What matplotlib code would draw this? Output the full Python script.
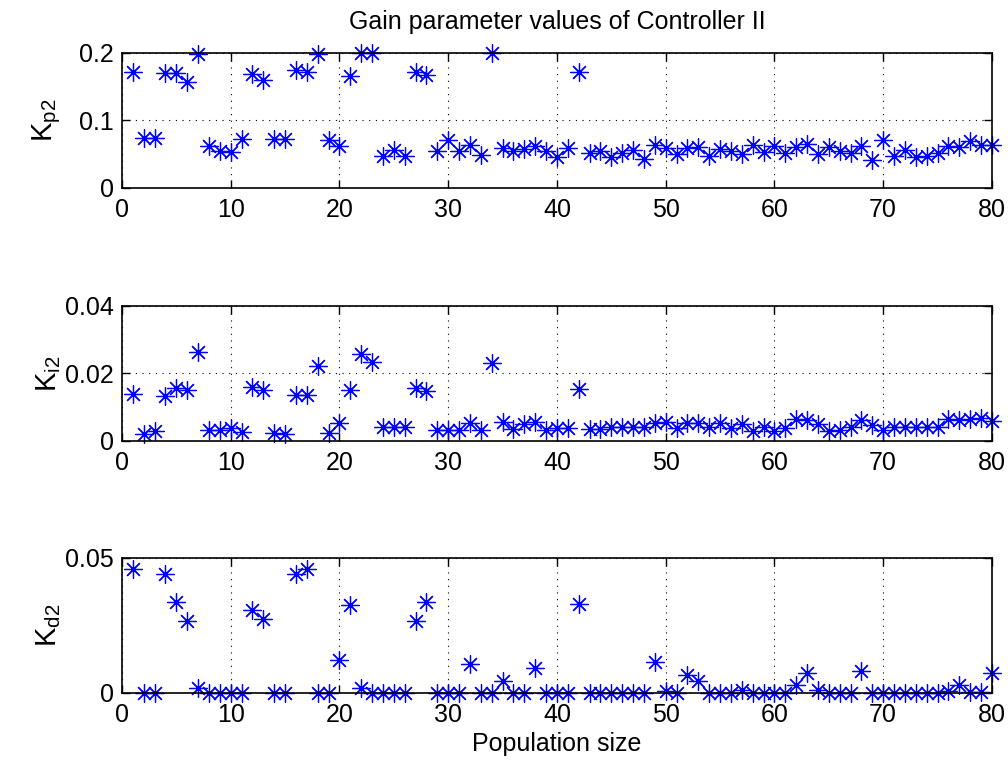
import matplotlib
matplotlib.use("Agg")
import matplotlib.pyplot as plt
import numpy as np

plt.rcParams["font.family"] = ["Liberation Sans", "DejaVu Sans"]
plt.rcParams["mathtext.fontset"] = "custom"
plt.rcParams["mathtext.rm"] = "Liberation Sans"

# population index
pop = np.arange(1, 81)

kp2 = [0.171, 0.074, 0.074, 0.170, 0.170, 0.156, 0.198, 0.062, 0.054, 0.053,
       0.072, 0.168, 0.159, 0.072, 0.072, 0.174, 0.171, 0.198, 0.071, 0.062,
       0.166, 0.200, 0.199, 0.047, 0.056, 0.047, 0.171, 0.167, 0.054, 0.071,
       0.055, 0.063, 0.049, 0.199, 0.059, 0.054, 0.057, 0.062, 0.055, 0.046,
       0.059, 0.171, 0.051, 0.054, 0.046, 0.052, 0.056, 0.043, 0.064, 0.059,
       0.050, 0.059, 0.060, 0.047, 0.057, 0.055, 0.050, 0.063, 0.053, 0.062,
       0.052, 0.061, 0.065, 0.050, 0.061, 0.054, 0.052, 0.062, 0.042, 0.071,
       0.047, 0.056, 0.046, 0.047, 0.052, 0.062, 0.060, 0.070, 0.063, 0.064]

ki2 = [0.0139, 0.0022, 0.0029, 0.0134, 0.0157, 0.0151, 0.0262, 0.0031, 0.0033, 0.0039,
       0.0026, 0.0159, 0.0152, 0.0024, 0.0022, 0.0137, 0.0137, 0.0222, 0.0024, 0.0053,
       0.0152, 0.0257, 0.0235, 0.0041, 0.0041, 0.0041, 0.0157, 0.0147, 0.0033, 0.0033,
       0.0033, 0.0054, 0.0033, 0.0232, 0.0056, 0.0036, 0.0051, 0.0055, 0.0033, 0.0039,
       0.0039, 0.0153, 0.0036, 0.0036, 0.0041, 0.0041, 0.0041, 0.0041, 0.0053, 0.0056,
       0.0039, 0.0053, 0.0053, 0.0041, 0.0053, 0.0039, 0.0049, 0.0029, 0.0041, 0.0029,
       0.0039, 0.0064, 0.0061, 0.0049, 0.0029, 0.0033, 0.0041, 0.0061, 0.0046, 0.0031,
       0.0041, 0.0041, 0.0041, 0.0041, 0.0041, 0.0064, 0.0061, 0.0064, 0.0068, 0.0058]

kd2 = [0.0460, 0.0, 0.0, 0.0439, 0.0335, 0.0267, 0.0018, 0.0, 0.0, 0.0,
       0.0, 0.0308, 0.0273, 0.0, 0.0, 0.0441, 0.0457, 0.0, 0.0, 0.0123,
       0.0326, 0.0018, 0.0, 0.0, 0.0, 0.0, 0.0267, 0.0335, 0.0, 0.0,
       0.0, 0.0108, 0.0, 0.0, 0.0043, 0.0, 0.0, 0.0093, 0.0, 0.0,
       0.0, 0.0328, 0.0, 0.0, 0.0, 0.0, 0.0, 0.0, 0.0116, 0.0006,
       0.0, 0.0065, 0.0045, 0.0, 0.0, 0.0, 0.0010, 0.0, 0.0, 0.0,
       0.0, 0.0028, 0.0074, 0.0012, 0.0, 0.0, 0.0, 0.0083, 0.0, 0.0,
       0.0, 0.0, 0.0, 0.0, 0.0, 0.0006, 0.0028, 0.0004, 0.0004, 0.0074]

series = [kp2, ki2, kd2]
ylabels = [r"$\mathregular{K_{p2}}$", r"$\mathregular{K_{i2}}$", r"$\mathregular{K_{d2}}$"]
ylims = [0.2, 0.04, 0.05]
yticks = [[0, 0.1, 0.2], [0, 0.02, 0.04], [0, 0.05]]
yticklabels = [["0", "0.1", "0.2"], ["0", "0.02", "0.04"], ["0", "0.05"]]
bottoms = [0.7533, 0.4213, 0.0906]

fig = plt.figure(figsize=(10.08, 7.62), dpi=100)
fs = 18

for i in range(3):
    ax = fig.add_axes([0.121, bottoms[i], 0.863, 0.1775])
    ax.plot(pop, series[i], linestyle="none", marker=(8, 2, 0), color="blue",
            markersize=13, markeredgewidth=0.9, clip_on=False)
    ax.set_xlim(0, 80)
    ax.set_ylim(0, ylims[i])
    ax.set_xticks(range(0, 81, 10))
    ax.set_yticks(yticks[i])
    ax.set_yticklabels(yticklabels[i])
    ax.tick_params(direction="in", length=6, width=1, top=True, right=True, labelsize=fs)
    ax.tick_params(axis="x", pad=7)
    ax.tick_params(axis="y", pad=6)
    ax.grid(True, color="black", linestyle=(0, (1, 5)), linewidth=0.8)
    for s in ax.spines.values():
        s.set_linewidth(1.2)
    ax.set_ylabel(ylabels[i], fontsize=21)
    ax.yaxis.set_label_coords(-0.068, 0.5)
    if i == 0:
        ax.set_title("Gain parameter values of Controller II", fontsize=18, pad=17)
    if i == 2:
        ax.set_xlabel("Population size", fontsize=18, labelpad=4)

fig.savefig("out.png", dpi=100)
